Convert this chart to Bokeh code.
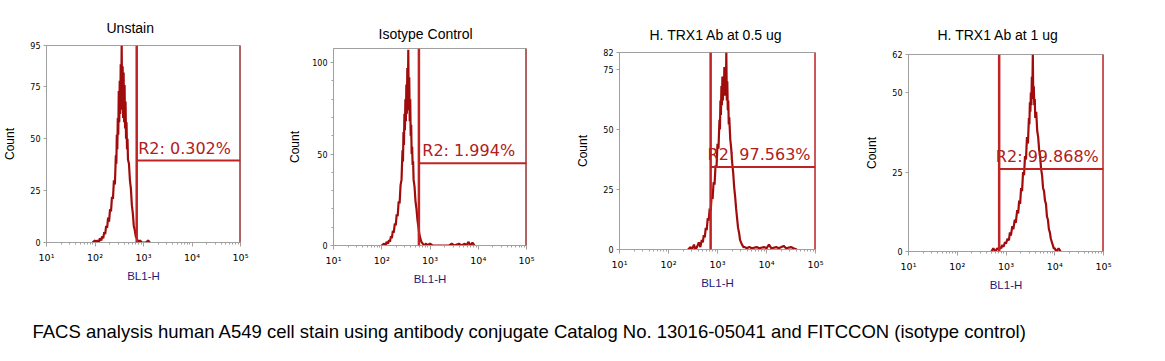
import numpy as np
from bokeh.plotting import figure
from bokeh.layouts import row, column
from bokeh.models import Range1d, FixedTicker, Label, Span, Spacer
from bokeh.embed import file_html
from bokeh.resources import INLINE

# ---------------- data ----------------
titles = ["Unstain", "Isotype Control", "H. TRX1 Ab at 0.5 ug", "H. TRX1 Ab at 1 ug"]
gate_labels = ["R2: 0.302%", "R2: 1.994%", "R2: 97.563%", "R2: 99.868%"]
y_max = [95, 107.7, 82, 62]
y_ticks = [[0, 25, 50, 75, 95], [0, 50, 100], [0, 25, 50, 75, 82], [0, 25, 50, 62]]
y_minor = [[], [10, 20, 30, 40, 60, 70, 80, 90], [], []]
gate_left_log = [2.86, 2.77, 2.86, 2.86]
gate_right_log = [5.0, 5.0, 5.0, 5.0]
gate_level = [39.5, 45, 34.3, 26]
x_tick_values = [10, 100, 1000, 10000, 100000]
x_tick_labels = ["10\u00b9", "10\u00b2", "10\u00b3", "10\u2074", "10\u2075"]
x_label = "BL1-H"
y_label = "Count"
caption = ("FACS analysis human A549 cell stain using antibody conjugate Catalog No. "
           "13016-05041 and FITCCON (isotype control)")

# histogram 1 (Unstain): log10 channel, count
h1_log = [1.95, 2.00, 2.02, 2.05, 2.08, 2.10, 2.13, 2.15, 2.17, 2.19, 2.21, 2.23, 2.25, 2.27,
          2.29, 2.31, 2.33, 2.35, 2.37, 2.39, 2.41, 2.43, 2.44, 2.45, 2.46, 2.47, 2.48, 2.49,
          2.50, 2.51, 2.52, 2.53, 2.54, 2.55, 2.56, 2.57, 2.58, 2.59, 2.60, 2.61, 2.62, 2.63,
          2.64, 2.65, 2.66, 2.67, 2.68, 2.70, 2.72, 2.74, 2.76, 2.78, 2.80, 2.82, 2.84, 2.86,
          2.88, 2.90, 2.93, 2.96, 3.00, 3.05, 3.10, 3.12, 3.15]
h1_cnt = [0, 1, 0, 1, 0, 2, 1, 3, 2, 5, 4, 8, 7, 12,
          10, 16, 15, 22, 21, 30, 28, 42, 38, 52, 45, 60, 52, 73,
          58, 78, 62, 86, 66, 95, 64, 85, 60, 82, 58, 76, 55, 68,
          50, 58, 45, 50, 40, 38, 30, 26, 18, 14, 8, 6, 3, 2,
          1, 0, 1, 0, 0, 0, 1, 0, 0]

# histogram 2 (Isotype Control)
h2_log = [2.00, 2.05, 2.08, 2.10, 2.13, 2.15, 2.17, 2.19, 2.21, 2.23, 2.25, 2.27, 2.29, 2.31,
          2.33, 2.35, 2.37, 2.39, 2.41, 2.43, 2.44, 2.45, 2.46, 2.47, 2.48, 2.49, 2.50, 2.51,
          2.52, 2.53, 2.54, 2.55, 2.56, 2.57, 2.58, 2.59, 2.60, 2.61, 2.62, 2.63, 2.64, 2.65,
          2.66, 2.68, 2.70, 2.72, 2.74, 2.76, 2.78, 2.80, 2.82, 2.85, 2.88, 2.92, 2.95, 3.00,
          3.05, 3.40, 3.45, 3.50, 3.60, 3.65, 3.72, 3.75, 3.80, 3.83, 3.88, 3.92]
h2_cnt = [0, 1, 0, 2, 1, 3, 2, 5, 4, 8, 7, 12, 11, 17,
          16, 24, 23, 33, 36, 52, 46, 62, 55, 72, 63, 80, 68, 88,
          72, 97, 75, 107, 74, 92, 68, 80, 60, 66, 50, 54, 44, 46,
          36, 32, 24, 20, 14, 10, 6, 4, 2, 1, 0, 1, 0, 1,
          0, 0, 1, 0, 1, 0, 1, 0, 2, 0, 1.5, 0]

# histogram 3 (H. TRX1 Ab at 0.5 ug)
h3_log = [2.40, 2.45, 2.48, 2.52, 2.55, 2.58, 2.62, 2.65, 2.68, 2.70, 2.72, 2.74, 2.76, 2.78,
          2.80, 2.82, 2.84, 2.86, 2.88, 2.90, 2.92, 2.94, 2.96, 2.98, 3.00, 3.02, 3.04, 3.05,
          3.06, 3.07, 3.08, 3.09, 3.10, 3.11, 3.12, 3.13, 3.14, 3.15, 3.16, 3.17, 3.18, 3.19,
          3.20, 3.21, 3.22, 3.23, 3.24, 3.26, 3.28, 3.30, 3.32, 3.34, 3.36, 3.38, 3.40, 3.42,
          3.44, 3.46, 3.48, 3.50, 3.53, 3.56, 3.60, 3.65, 3.70, 3.80, 3.85, 3.95, 4.00, 4.05,
          4.10, 4.20, 4.25, 4.35, 4.40, 4.50, 4.55, 4.62]
h3_cnt = [0, 1, 0, 2, 0, 1, 3, 1, 4, 3, 6, 5, 9, 8,
          13, 12, 17, 16, 22, 21, 28, 27, 35, 34, 44, 42, 54, 50,
          62, 56, 68, 60, 72, 62, 70, 64, 76, 66, 74, 64, 82, 62,
          70, 58, 62, 52, 55, 46, 42, 36, 32, 26, 22, 17, 13, 9,
          7, 4, 3, 2, 1, 1, 0.5, 1, 0.5, 1, 0.5, 1, 0.5, 2,
          0.5, 1, 0.5, 1.5, 0.5, 1, 0.5, 0]

# histogram 4 (H. TRX1 Ab at 1 ug)
h4_log = [2.70, 2.74, 2.78, 2.82, 2.86, 2.88, 2.90, 2.92, 2.95, 2.98, 3.00, 3.03, 3.06, 3.08,
          3.10, 3.13, 3.15, 3.18, 3.20, 3.23, 3.25, 3.27, 3.29, 3.31, 3.33, 3.35, 3.37, 3.39,
          3.41, 3.43, 3.45, 3.47, 3.48, 3.49, 3.50, 3.51, 3.52, 3.53, 3.54, 3.55, 3.56, 3.57,
          3.58, 3.59, 3.60, 3.62, 3.64, 3.66, 3.68, 3.70, 3.72, 3.74, 3.76, 3.78, 3.80, 3.82,
          3.84, 3.86, 3.88, 3.90, 3.92, 3.94, 3.96, 3.98, 4.00, 4.03, 4.08, 4.12]
h4_cnt = [0, 1, 0, 1, 0.5, 1.5, 1, 2, 1.5, 3, 2.5, 4, 3.5, 6,
          5, 8, 7, 10, 9, 13, 12, 16, 15, 20, 19, 25, 24, 30,
          29, 36, 34, 42, 40, 47, 44, 50, 46, 55, 50, 62, 48, 52,
          46, 48, 42, 44, 38, 36, 32, 30, 26, 24, 20, 19, 16, 15,
          11, 10, 7, 6, 4, 3, 2, 1, 1, 0, 1, 0]

hist_logs = [h1_log, h2_log, h3_log, h4_log]
hist_cnts = [h1_cnt, h2_cnt, h3_cnt, h4_cnt]

# ---------------- layout / style ----------------
FIG_H = 290
B_TOP = 45
B_BOTTOM = 48
spacer_h = [0, 3, 7, 9]
fig_w = [285, 288, 289, 296]
b_left = [43, 43, 44, 44]
b_right = [45, 47, 47, 55]
title_offset = [60, 45, 30, 29]
title_standoff = [18.5, 14, 19.5, 23.5]
ylabel_standoff = [10, 7, 10, 10]

HIST_COLOR = "#a00c0c"
GATE_COLOR = "#bf2323"
AXIS_GRAY = "#a0a0a0"

minor_x = [k * 10.0 ** d for d in range(1, 5) for k in range(2, 10)]

cols = []
for i in range(4):
    p = figure(width=fig_w[i], height=FIG_H, x_axis_type="log",
               x_range=Range1d(10, 1e5), y_range=Range1d(0, y_max[i]),
               output_backend="svg", toolbar_location=None,
               min_border_left=b_left[i], min_border_right=b_right[i],
               min_border_top=B_TOP, min_border_bottom=B_BOTTOM)
    p.background_fill_color = "white"
    p.border_fill_color = "white"
    p.outline_line_color = AXIS_GRAY
    p.grid.visible = False

    p.title.text = titles[i]
    p.title.align = "left"
    p.title.offset = title_offset[i]
    p.title.text_font = "Liberation Sans"
    p.title.text_font_size = "14px"
    p.title.text_font_style = "normal"
    p.title.text_color = "black"
    p.title.standoff = title_standoff[i]

    xa = p.xaxis[0]
    xa.ticker = FixedTicker(ticks=x_tick_values, minor_ticks=minor_x)
    xa.major_label_overrides = dict(zip(x_tick_values, x_tick_labels))
    xa.axis_line_color = AXIS_GRAY
    xa.major_tick_line_color = AXIS_GRAY
    xa.minor_tick_line_color = AXIS_GRAY
    xa.major_tick_out = 4
    xa.major_tick_in = 0
    xa.minor_tick_out = 2
    xa.minor_tick_in = 0
    xa.major_label_standoff = 5
    xa.major_label_text_font = "DejaVu Sans"
    xa.major_label_text_font_size = "9.5px"
    xa.major_label_text_color = "black"
    xa.axis_label = x_label
    xa.axis_label_text_font = "Liberation Sans"
    xa.axis_label_text_font_size = "11.5px"
    xa.axis_label_text_font_style = "normal"
    xa.axis_label_text_color = "#1c1c78"
    xa.axis_label_standoff = 4

    ya = p.yaxis[0]
    ya.ticker = FixedTicker(ticks=y_ticks[i], minor_ticks=y_minor[i])
    ya.axis_line_color = AXIS_GRAY
    ya.major_tick_line_color = AXIS_GRAY
    ya.minor_tick_line_color = AXIS_GRAY
    ya.major_tick_out = 3
    ya.major_tick_in = 0
    ya.minor_tick_out = 2
    ya.minor_tick_in = 0
    ya.major_label_standoff = 3
    ya.major_label_text_font = "DejaVu Sans"
    ya.major_label_text_font_size = "8px"
    ya.major_label_text_color = "black"
    ya.axis_label = y_label
    ya.axis_label_text_font = "Liberation Sans"
    ya.axis_label_text_font_size = "12px"
    ya.axis_label_text_font_style = "normal"
    ya.axis_label_text_color = "black"
    ya.axis_label_standoff = ylabel_standoff[i]

    # histogram
    p.line(10 ** np.array(hist_logs[i]), hist_cnts[i], color=HIST_COLOR, line_width=2.2)

    # gate R2
    gl, gr = 10 ** gate_left_log[i], 10 ** gate_right_log[i]
    p.add_layout(Span(location=gl, dimension="height", line_color=GATE_COLOR, line_width=2.5))
    p.add_layout(Span(location=gr, dimension="height", line_color=GATE_COLOR, line_width=2.5))
    p.segment(x0=[gl], y0=[gate_level[i]], x1=[gr], y1=[gate_level[i]],
              line_color=GATE_COLOR, line_width=2)
    p.add_layout(Label(x=10 ** ((gate_left_log[i] + gate_right_log[i]) / 2), y=gate_level[i],
                       text=gate_labels[i], text_align="center", text_baseline="bottom",
                       x_offset=-4, y_offset=3, text_font="DejaVu Sans",
                       text_font_size="16px", text_color="#b02020"))
    if spacer_h[i] > 0:
        cols.append(column(Spacer(width=fig_w[i], height=spacer_h[i]), p))
    else:
        cols.append(p)

CAP_H = 60
cap = figure(width=1149, height=CAP_H, x_range=Range1d(0, 1149), y_range=Range1d(0, CAP_H),
             output_backend="svg", toolbar_location=None, min_border=0)
cap.axis.visible = False
cap.grid.visible = False
cap.outline_line_color = None
cap.background_fill_color = "white"
cap.border_fill_color = "white"
cap.add_layout(Label(x=32, y=28, text=caption, text_align="left", text_baseline="middle",
                     text_font="Liberation Sans", text_font_size="18.5px", text_color="black"))

layout = column(row(*cols), cap)
open("out.html", "w").write(file_html(layout, INLINE))
